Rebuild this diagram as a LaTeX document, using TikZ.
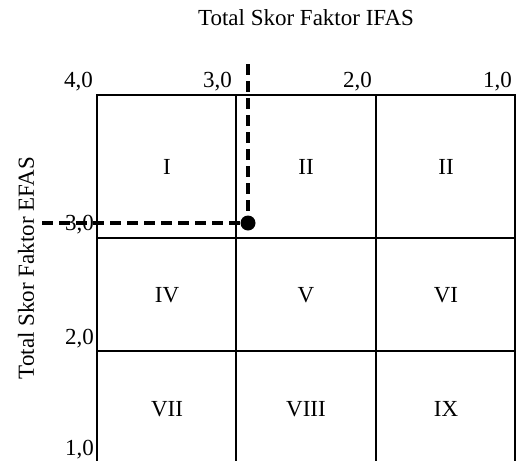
\documentclass[tikz,border=0pt]{standalone}
\usepackage{fontspec}
\setmainfont{Liberation Serif}
\begin{document}
\begin{tikzpicture}[x=1pt,y=-1pt,
  lbl/.style={font=\fontsize{23}{27}\selectfont, inner sep=0pt},
  gridline/.style={line width=2pt},
  dashline/.style={line width=4pt, dash pattern=on 11pt off 6pt}]
\useasboundingbox (0,0) rectangle (520,461);
% grid
\draw[gridline] (97,461) -- (97,95) -- (515,95) -- (515,461);
\draw[gridline] (236,95) -- (236,461);
\draw[gridline] (376,95) -- (376,461);
\draw[gridline] (97,238) -- (515,238);
\draw[gridline] (97,351) -- (515,351);
% titles
\node[lbl] (title) at (306,18) {Total Skor Faktor IFAS};
\node[lbl, rotate=90] (ytitle) at (26,268) {Total Skor Faktor EFAS};
% top scale
\node[lbl, anchor=base east] (t4) at (93,87) {4,0};
\node[lbl, anchor=base east] (t3) at (232,87) {3,0};
\node[lbl, anchor=base east] (t2) at (372,87) {2,0};
\node[lbl, anchor=base east] (t1) at (512,87) {1,0};
% left scale
\node[lbl, anchor=base east] (l3) at (94,230) {3,0};
\node[lbl, anchor=base east] (l2) at (94,344) {2,0};
\node[lbl, anchor=base east] (l1) at (94,455) {1,0};
% cells
\node[lbl] (c1) at (167,167) {I};
\node[lbl] (c2) at (306,167) {II};
\node[lbl] (c3) at (446,167) {II};
\node[lbl] (c4) at (167,295) {IV};
\node[lbl] (c5) at (306,295) {V};
\node[lbl] (c6) at (446,295) {VI};
\node[lbl] (c7) at (167,409) {VII};
\node[lbl] (c8) at (306,409) {VIII};
\node[lbl] (c9) at (446,409) {IX};
% point
\coordinate (p) at (248,223);
\coordinate (ptop) at (248,64);
\coordinate (pleft) at (42,223);
\draw[dashline] (ptop) -- (p);
\draw[dashline] (pleft) -- (p);
\fill (p) circle (7.5);
\end{tikzpicture}
\end{document}
